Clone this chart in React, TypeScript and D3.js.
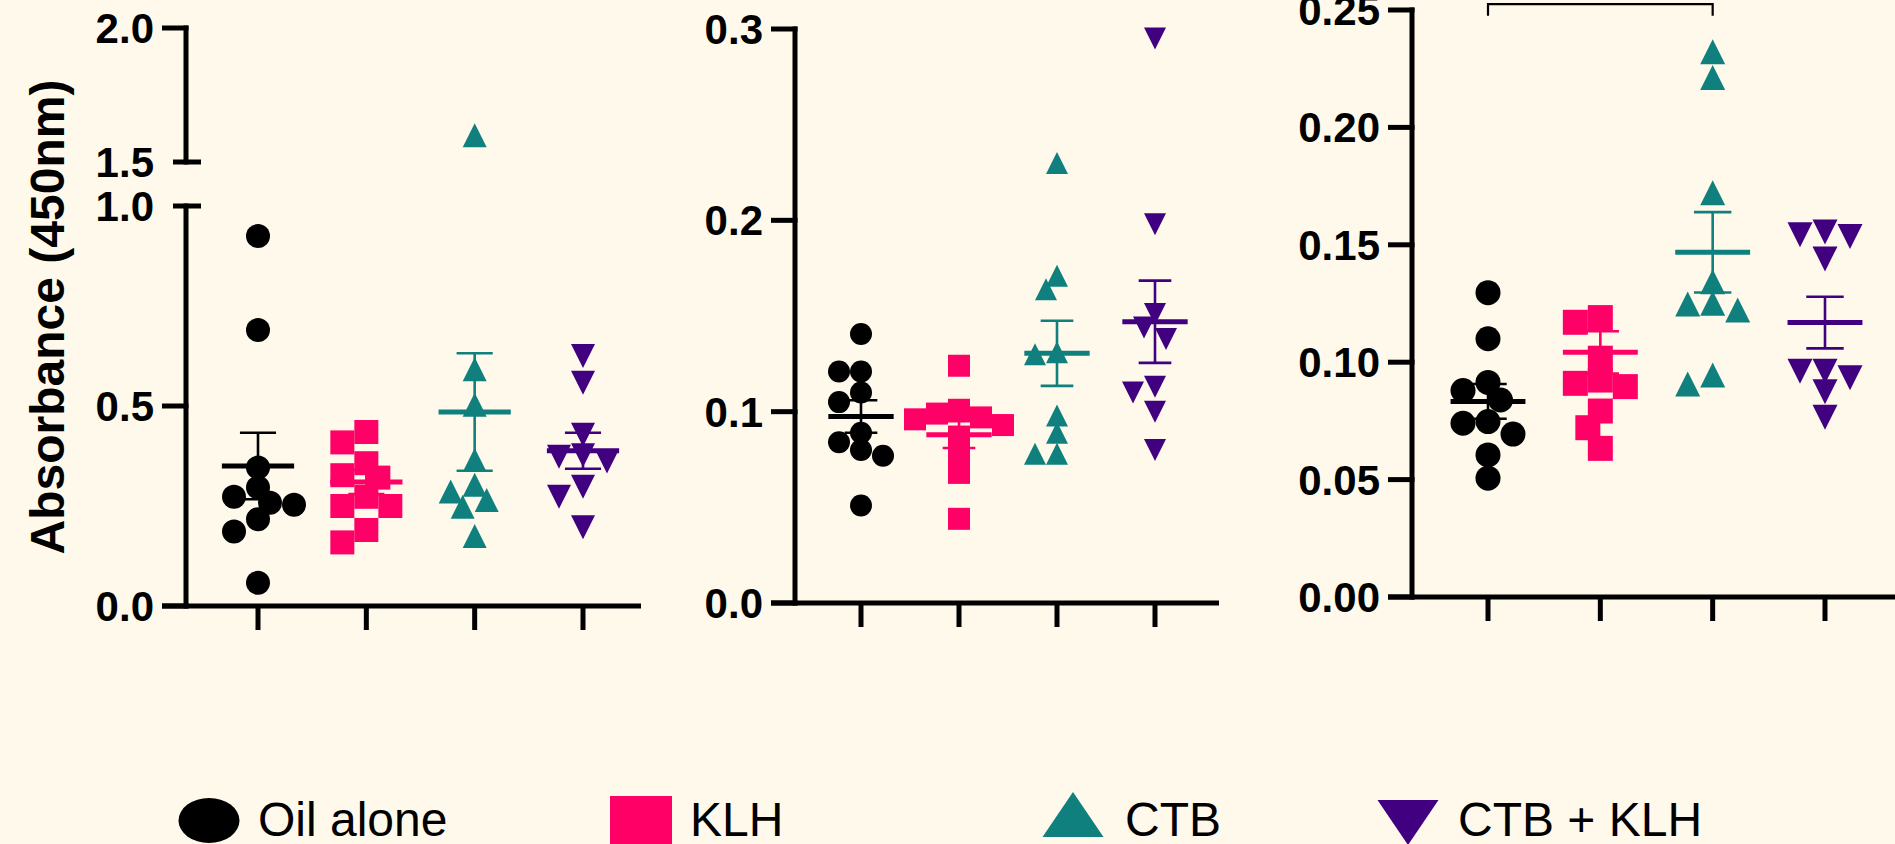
import * as d3 from "d3";
import { useEffect } from "react";

const groups = ["Oil alone", "KLH", "CTB", "CTB + KLH"];
const groupColors = ["#000000", "#FF0066", "#0F807D", "#410080"];
const groupShapes = ["circle", "square", "triangle", "triangleDown"];

// left panel (broken axis)
const p1Oil = [0.925, 0.69, 0.346, 0.296, 0.273, 0.258, 0.253, 0.217, 0.186, 0.058];
const p1KLH = [0.435, 0.409, 0.357, 0.327, 0.321, 0.273, 0.25, 0.25, 0.19, 0.159];
const p1CTB = [1.6, 0.592, 0.503, 0.365, 0.303, 0.286, 0.265, 0.248, 0.175];
const p1Both = [0.625, 0.558, 0.428, 0.377, 0.373, 0.361, 0.298, 0.273, 0.197];
const p1Mean = [0.35, 0.31, 0.485, 0.388];
const p1Sem = [0.083, 0.03, 0.147, 0.045];
const p1TicksLow = [0, 0.5, 1.0];
const p1TicksHigh = [1.5, 2.0];

// middle panel
const p2Oil = [0.1406, 0.121, 0.121, 0.11, 0.105, 0.089, 0.084, 0.08, 0.077, 0.051];
const p2KLH = [0.124, 0.101, 0.099, 0.097, 0.096, 0.093, 0.087, 0.077, 0.068, 0.044];
const p2CTB = [0.23, 0.171, 0.164, 0.131, 0.13, 0.098, 0.089, 0.078, 0.078];
const p2Both = [0.295, 0.198, 0.151, 0.144, 0.138, 0.113, 0.11, 0.1, 0.08];
const p2Mean = [0.0975, 0.088, 0.1305, 0.147];
const p2Sem = [0.0085, 0.007, 0.017, 0.0215];
const p2Ticks = [0, 0.1, 0.2, 0.3];

// right panel
const p3Oil = [0.1296, 0.11, 0.0914, 0.0879, 0.0839, 0.0747, 0.074, 0.0694, 0.0605, 0.0506];
const p3KLH = [0.119, 0.117, 0.1017, 0.0924, 0.091, 0.0896, 0.0792, 0.0721, 0.0633];
const p3CTB = [0.2322, 0.2213, 0.1722, 0.1343, 0.1251, 0.1248, 0.1222, 0.0945, 0.0907];
const p3Both = [0.1555, 0.1543, 0.1535, 0.144, 0.0961, 0.0961, 0.0934, 0.0874, 0.0766];
const p3Mean = [0.0833, 0.1042, 0.1468, 0.1169];
const p3Sem = [0.0074, 0.009, 0.0171, 0.011];
const p3Ticks = [0, 0.05, 0.1, 0.15, 0.2, 0.25];
const p3Bracket = { from: 0, to: 2, level: 0.2525, drop: 0.005 };

const yTitle = "Absorbance (450nm)";

const W = 1895;
const H = 844;
const BG = "#FFF9EC";
const FONT = "'Liberation Sans', Arial, Helvetica, sans-serif";

function markerPath(shape: string, cx: number, cy: number, s: number) {
  const h = s / 2;
  if (shape === "square") return `M${cx - h},${cy - h}h${s}v${s}h${-s}Z`;
  if (shape === "triangle") return `M${cx},${cy - h}L${cx + h},${cy + h}L${cx - h},${cy + h}Z`;
  if (shape === "triangleDown") return `M${cx},${cy + h}L${cx + h},${cy - h}L${cx - h},${cy - h}Z`;
  return `M${cx - h},${cy}a${h},${h} 0 1,0 ${s},0a${h},${h} 0 1,0 ${-s},0`;
}

// simple beeswarm so points in a column don't sit on top of each other
function swarm(ys: number[], size: number) {
  const placed: { dx: number; y: number }[] = [];
  const order = ys.map((y, i) => ({ y, i })).sort((a, b) => a.y - b.y);
  const out: number[] = new Array(ys.length).fill(0);
  order.forEach(({ y, i }) => {
    for (let k = 0; k < 30; k++) {
      const dx = k === 0 ? 0 : (k % 2 ? -1 : 1) * Math.ceil(k / 2) * size * 0.5;
      const hit = placed.some((p) => Math.hypot(p.dx - dx, p.y - y) < size * 0.75);
      if (!hit) {
        placed.push({ dx, y });
        out[i] = dx;
        break;
      }
    }
  });
  return out;
}

type Seg = { domain: [number, number]; range: [number, number]; ticks: number[] };

function Panel({ axisX, axisEnd, xFirst, xLast, segs, fmt, series, means, sems, size, bracket }: any) {
  const x = d3.scalePoint<string>().domain(groups).range([xFirst, xLast]);
  const step = x.step();
  const scales = (segs as Seg[]).map((s) => d3.scaleLinear().domain(s.domain).range(s.range));
  const yOf = (v: number) => {
    let idx = (segs as Seg[]).findIndex((s) => v >= s.domain[0] && v <= s.domain[1]);
    if (idx < 0) idx = v > (segs as Seg[])[0].domain[1] ? segs.length - 1 : 0;
    return scales[idx](v);
  };
  const baseY = segs[0].range[0];
  const broken = segs.length > 1;

  return (
    <g>
      {/* y axis */}
      {(segs as Seg[]).map((s, si) => (
        <g key={si}>
          <line x1={axisX} x2={axisX} y1={s.range[0] + 2.5} y2={s.range[1] - 2.5} stroke="#000" strokeWidth={5} />
          {s.ticks.map((t) => {
            const y = scales[si](t);
            const isBreak = broken && ((si === 0 && t === s.domain[1]) || (si > 0 && t === s.domain[0]));
            return (
              <g key={t}>
                <line
                  x1={isBreak ? axisX - 13 : axisX - 24}
                  x2={isBreak ? axisX + 15 : axisX + 2.5}
                  y1={y}
                  y2={y}
                  stroke="#000"
                  strokeWidth={5}
                />
                <text x={axisX - 32} y={y + 15} textAnchor="end" fontSize={42} fontWeight={700} fontFamily={FONT} fill="#000">
                  {d3.format(fmt)(t)}
                </text>
              </g>
            );
          })}
        </g>
      ))}
      {/* x axis */}
      <line x1={axisX - 24} x2={axisEnd} y1={baseY} y2={baseY} stroke="#000" strokeWidth={5} />
      {groups.map((g) => (
        <line key={g} x1={x(g)} x2={x(g)} y1={baseY} y2={baseY + 24} stroke="#000" strokeWidth={5} />
      ))}
      {/* points */}
      {series.map((vals: number[], gi: number) => {
        const ys = vals.map(yOf);
        const dxs = swarm(ys, size);
        return (
          <g key={gi} fill={groupColors[gi]}>
            {ys.map((y, i) => (
              <path key={i} d={markerPath(groupShapes[gi], (x(groups[gi]) as number) + dxs[i], y, size)} />
            ))}
          </g>
        );
      })}
      {/* mean and SEM */}
      {means.map((m: number, gi: number) => {
        const cx = x(groups[gi]) as number;
        const ym = yOf(m);
        const yt = yOf(m + sems[gi]);
        const yb = yOf(m - sems[gi]);
        const c = groupColors[gi];
        return (
          <g key={gi} stroke={c}>
            <line x1={cx} x2={cx} y1={yt} y2={yb} strokeWidth={2.6} />
            <line x1={cx - step / 6} x2={cx + step / 6} y1={yt} y2={yt} strokeWidth={2.6} />
            <line x1={cx - step / 6} x2={cx + step / 6} y1={yb} y2={yb} strokeWidth={2.6} />
            <line x1={cx - step / 3} x2={cx + step / 3} y1={ym} y2={ym} strokeWidth={5} />
          </g>
        );
      })}
      {bracket && (
        <path
          d={`M${x(groups[bracket.from])},${yOf(bracket.level - bracket.drop)}V${yOf(bracket.level)}H${x(groups[bracket.to])}V${yOf(bracket.level - bracket.drop)}`}
          fill="none"
          stroke="#000"
          strokeWidth={2.2}
        />
      )}
    </g>
  );
}

function Legend() {
  const markX = [209, 641, 1073, 1408];
  const textX = [258, 690, 1125, 1458];
  return (
    <g>
      <ellipse cx={markX[0]} cy={820.5} rx={30.5} ry={22.5} fill={groupColors[0]} />
      <rect x={markX[1] - 31} y={796} width={62} height={62} fill={groupColors[1]} />
      <path d={`M${markX[2]},792L${markX[2] + 30.5},837L${markX[2] - 30.5},837Z`} fill={groupColors[2]} />
      <path d={`M${markX[3]},845L${markX[3] + 30.5},800L${markX[3] - 30.5},800Z`} fill={groupColors[3]} />
      {groups.map((g, i) => (
        <text key={g} x={textX[i]} y={836} fontSize={48} fontFamily={FONT} fill="#000">
          {g}
        </text>
      ))}
    </g>
  );
}

export default function App() {
  useEffect(() => {
    document.body.style.margin = "0";
    document.body.style.overflow = "hidden";
  }, []);

  return (
    <svg width={W} height={H} style={{ position: "absolute", left: 0, top: 0, display: "block", background: BG }}>
      <rect width={W} height={H} fill={BG} />
      <text
        transform="translate(64,317) rotate(-90)"
        textAnchor="middle"
        fontSize={48}
        fontWeight={700}
        fontFamily={FONT}
        fill="#000"
      >
        {yTitle}
      </text>
      <Panel
        axisX={186}
        axisEnd={641}
        xFirst={258}
        xLast={583}
        segs={[
          { domain: [0, 1], range: [606, 206], ticks: p1TicksLow },
          { domain: [1.5, 2], range: [162, 28], ticks: p1TicksHigh },
        ]}
        fmt=".1f"
        series={[p1Oil, p1KLH, p1CTB, p1Both]}
        means={p1Mean}
        sems={p1Sem}
        size={24}
      />
      <Panel
        axisX={795}
        axisEnd={1219}
        xFirst={861}
        xLast={1155}
        segs={[{ domain: [0, 0.3], range: [603, 29], ticks: p2Ticks }]}
        fmt=".1f"
        series={[p2Oil, p2KLH, p2CTB, p2Both]}
        means={p2Mean}
        sems={p2Sem}
        size={22}
      />
      <Panel
        axisX={1412}
        axisEnd={1900}
        xFirst={1488}
        xLast={1825}
        segs={[{ domain: [0, 0.25], range: [597, 10], ticks: p3Ticks }]}
        fmt=".2f"
        series={[p3Oil, p3KLH, p3CTB, p3Both]}
        means={p3Mean}
        sems={p3Sem}
        size={25}
        bracket={p3Bracket}
      />
      <Legend />
    </svg>
  );
}
